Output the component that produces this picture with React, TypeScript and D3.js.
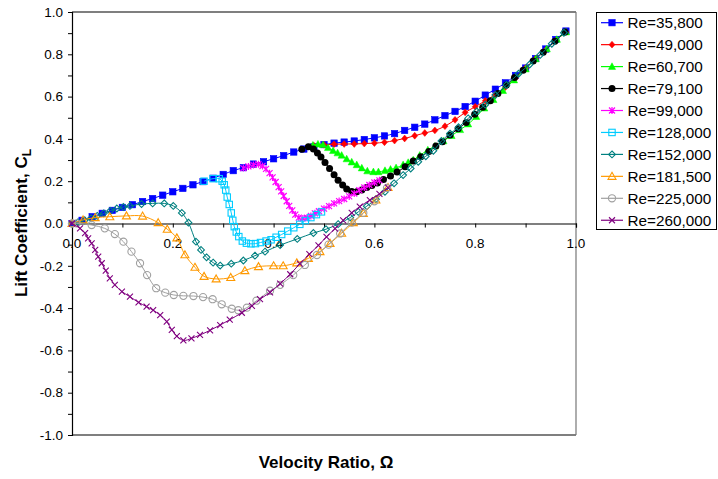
import React, { useEffect, useRef } from 'react';
import * as d3 from 'd3';

const seriesNames = ['Re=35,800', 'Re=49,000', 'Re=60,700', 'Re=79,100', 'Re=99,000', 'Re=128,000', 'Re=152,000', 'Re=181,500', 'Re=225,000', 'Re=260,000'];
const seriesColors = ['#0000FF', '#FF0000', '#00FF00', '#000000', '#FF00FF', '#00CCFF', '#008080', '#FF9900', '#A0A0A0', '#800080'];
const seriesMarkers = ['squareF', 'diamondF', 'triangleF', 'circleF', 'asterisk', 'squareO', 'diamondO', 'triangleO', 'circleO', 'cross'];

const w35800 = [0, 0.02, 0.04, 0.06, 0.08, 0.10, 0.12, 0.14, 0.16, 0.18, 0.20, 0.22, 0.24, 0.26, 0.28, 0.30, 0.32, 0.34, 0.36, 0.38, 0.40, 0.42, 0.44, 0.46, 0.48, 0.50, 0.52, 0.54, 0.56, 0.58, 0.60, 0.62, 0.64, 0.66, 0.68, 0.70, 0.72, 0.74, 0.76, 0.78, 0.80, 0.82, 0.84, 0.86, 0.88, 0.90, 0.92, 0.94, 0.96, 0.98];
const c35800 = [0, 0.015, 0.032, 0.048, 0.062, 0.076, 0.089, 0.104, 0.118, 0.134, 0.15, 0.166, 0.183, 0.198, 0.214, 0.232, 0.25, 0.264, 0.281, 0.292, 0.306, 0.321, 0.338, 0.352, 0.363, 0.373, 0.38, 0.385, 0.39, 0.397, 0.405, 0.414, 0.425, 0.44, 0.455, 0.47, 0.49, 0.51, 0.53, 0.553, 0.578, 0.607, 0.635, 0.665, 0.7, 0.735, 0.78, 0.825, 0.87, 0.91];

const w49000 = [0.48, 0.50, 0.52, 0.54, 0.56, 0.58, 0.60, 0.62, 0.64, 0.66, 0.68, 0.70, 0.72, 0.74, 0.76, 0.78, 0.80, 0.82, 0.84, 0.86, 0.88, 0.90, 0.92, 0.94, 0.96, 0.98];
const c49000 = [0.368, 0.372, 0.375, 0.376, 0.376, 0.378, 0.38, 0.384, 0.392, 0.402, 0.415, 0.428, 0.44, 0.46, 0.49, 0.525, 0.552, 0.58, 0.61, 0.645, 0.688, 0.735, 0.78, 0.82, 0.865, 0.905];

const w60700 = [0.478, 0.488, 0.498, 0.508, 0.518, 0.527, 0.535, 0.545, 0.555, 0.565, 0.575, 0.586, 0.598, 0.608, 0.621, 0.632, 0.643, 0.657, 0.667, 0.677, 0.69, 0.706, 0.72, 0.737, 0.753, 0.77, 0.786, 0.802, 0.818, 0.836, 0.855, 0.877, 0.9, 0.92, 0.942, 0.962, 0.98];
const c60700 = [0.37, 0.375, 0.372, 0.358, 0.344, 0.333, 0.322, 0.305, 0.29, 0.277, 0.262, 0.248, 0.244, 0.244, 0.25, 0.256, 0.263, 0.277, 0.288, 0.3, 0.322, 0.347, 0.365, 0.39, 0.415, 0.443, 0.47, 0.505, 0.545, 0.585, 0.628, 0.678, 0.73, 0.778, 0.825, 0.87, 0.905];

const w79100 = [0.456, 0.469, 0.479, 0.487, 0.494, 0.502, 0.511, 0.52, 0.528, 0.537, 0.545, 0.555, 0.565, 0.575, 0.585, 0.595, 0.606, 0.618, 0.632, 0.645, 0.661, 0.677, 0.692, 0.708, 0.722, 0.735, 0.75, 0.766, 0.782, 0.799, 0.815, 0.83, 0.845, 0.862, 0.878, 0.895, 0.915, 0.935, 0.958, 0.978];
const c79100 = [0.351, 0.363, 0.352, 0.333, 0.315, 0.288, 0.26, 0.23, 0.205, 0.182, 0.163, 0.151, 0.15, 0.158, 0.17, 0.18, 0.192, 0.208, 0.225, 0.243, 0.268, 0.295, 0.316, 0.34, 0.366, 0.387, 0.418, 0.448, 0.478, 0.516, 0.55, 0.58, 0.615, 0.655, 0.69, 0.725, 0.768, 0.81, 0.862, 0.905];

const w99000 = [0.34, 0.35, 0.36, 0.37, 0.378, 0.385, 0.392, 0.398, 0.404, 0.41, 0.415, 0.42, 0.426, 0.431, 0.437, 0.443, 0.45, 0.458, 0.466, 0.474, 0.482, 0.49, 0.5, 0.51, 0.52, 0.53, 0.54, 0.55, 0.56, 0.57, 0.58, 0.59, 0.6, 0.61];
const c99000 = [0.262, 0.27, 0.277, 0.28, 0.272, 0.258, 0.238, 0.218, 0.196, 0.172, 0.152, 0.13, 0.105, 0.083, 0.062, 0.042, 0.028, 0.024, 0.027, 0.036, 0.048, 0.058, 0.07, 0.082, 0.095, 0.106, 0.116, 0.128, 0.142, 0.157, 0.17, 0.182, 0.194, 0.204];

const w128000 = [0.262, 0.28, 0.292, 0.298, 0.302, 0.305, 0.308, 0.312, 0.316, 0.319, 0.322, 0.326, 0.331, 0.338, 0.346, 0.355, 0.364, 0.374, 0.385, 0.395, 0.405, 0.416, 0.428, 0.44, 0.452, 0.463, 0.474, 0.485, 0.495];
const c128000 = [0.2, 0.212, 0.212, 0.2, 0.183, 0.158, 0.125, 0.09, 0.05, 0.015, -0.015, -0.04, -0.062, -0.083, -0.093, -0.096, -0.095, -0.09, -0.083, -0.077, -0.065, -0.052, -0.036, -0.02, -0.004, 0.014, 0.028, 0.042, 0.055];

const w152000 = [0, 0.012, 0.025, 0.038, 0.05, 0.063, 0.076, 0.089, 0.102, 0.115, 0.138, 0.16, 0.183, 0.201, 0.218, 0.231, 0.246, 0.256, 0.267, 0.28, 0.294, 0.316, 0.34, 0.363, 0.383, 0.413, 0.447, 0.479, 0.504, 0.528, 0.552, 0.568, 0.585, 0.603, 0.621, 0.639, 0.657, 0.672, 0.687, 0.702, 0.717, 0.733, 0.75, 0.767, 0.786, 0.803, 0.82, 0.84, 0.862, 0.886, 0.908, 0.929, 0.952, 0.976];
const c152000 = [0, 0.006, 0.015, 0.025, 0.036, 0.048, 0.06, 0.071, 0.078, 0.083, 0.092, 0.095, 0.095, 0.083, 0.05, 0.004, -0.086, -0.125, -0.16, -0.185, -0.199, -0.19, -0.175, -0.152, -0.133, -0.102, -0.073, -0.045, -0.027, -0.003, 0.028, 0.055, 0.082, 0.115, 0.15, 0.19, 0.229, 0.26, 0.292, 0.318, 0.344, 0.39, 0.425, 0.455, 0.497, 0.53, 0.562, 0.607, 0.655, 0.708, 0.752, 0.797, 0.85, 0.902];

const w181500 = [0, 0.022, 0.046, 0.075, 0.108, 0.14, 0.171, 0.189, 0.208, 0.224, 0.244, 0.262, 0.286, 0.315, 0.343, 0.37, 0.4, 0.419, 0.446, 0.469, 0.492, 0.512, 0.535, 0.558, 0.578, 0.603, 0.627];
const c181500 = [0, 0.017, 0.028, 0.032, 0.036, 0.035, 0.004, -0.027, -0.068, -0.148, -0.207, -0.25, -0.262, -0.255, -0.223, -0.204, -0.2, -0.2, -0.186, -0.165, -0.133, -0.094, -0.046, 0.004, 0.048, 0.111, 0.17];

const w225000 = [0, 0.009, 0.039, 0.065, 0.085, 0.102, 0.118, 0.135, 0.149, 0.167, 0.185, 0.202, 0.221, 0.241, 0.26, 0.279, 0.297, 0.317, 0.33, 0.347, 0.366, 0.393, 0.413, 0.439, 0.462, 0.486, 0.509, 0.532, 0.555, 0.578, 0.6, 0.625];
const c225000 = [0, 0.001, -0.007, -0.023, -0.05, -0.086, -0.133, -0.188, -0.244, -0.306, -0.327, -0.338, -0.342, -0.343, -0.348, -0.358, -0.382, -0.403, -0.41, -0.398, -0.365, -0.318, -0.29, -0.244, -0.196, -0.149, -0.1, -0.047, 0.004, 0.05, 0.105, 0.168];

const w260000 = [0, 0.016, 0.026, 0.032, 0.039, 0.046, 0.052, 0.059, 0.067, 0.075, 0.085, 0.099, 0.115, 0.132, 0.148, 0.161, 0.175, 0.188, 0.198, 0.208, 0.221, 0.237, 0.254, 0.274, 0.294, 0.313, 0.337, 0.357, 0.373, 0.393, 0.413, 0.433, 0.452, 0.471, 0.489, 0.505, 0.522, 0.538, 0.555, 0.571, 0.591, 0.61, 0.627];
const c260000 = [0, -0.023, -0.046, -0.07, -0.094, -0.125, -0.157, -0.188, -0.223, -0.259, -0.29, -0.322, -0.346, -0.373, -0.393, -0.41, -0.433, -0.464, -0.503, -0.532, -0.553, -0.543, -0.527, -0.505, -0.48, -0.455, -0.422, -0.39, -0.358, -0.326, -0.284, -0.24, -0.19, -0.145, -0.103, -0.063, -0.024, 0.015, 0.05, 0.08, 0.111, 0.14, 0.17];

const omegaSeries = [w35800, w49000, w60700, w79100, w99000, w128000, w152000, w181500, w225000, w260000];
const clSeries = [c35800, c49000, c60700, c79100, c99000, c128000, c152000, c181500, c225000, c260000];

const xTickValues = [0, 0.2, 0.4, 0.6, 0.8, 1.0];
const yTickValues = [-1.0, -0.8, -0.6, -0.4, -0.2, 0.0, 0.2, 0.4, 0.6, 0.8, 1.0];

const fmt = (d: number) => d3.format('.1f')(d).replace('\u2212', '-');

function drawMarker(g: any, type: string, x: number, y: number, color: string) {
  const s = 3.2;
  switch (type) {
    case 'squareF':
      g.append('rect').attr('x', x - s).attr('y', y - s).attr('width', 2 * s).attr('height', 2 * s).attr('fill', color).attr('stroke', color).attr('stroke-width', 0.6);
      break;
    case 'diamondF':
      g.append('path').attr('d', `M${x},${y - 3.4}L${x + 3},${y}L${x},${y + 3.4}L${x - 3},${y}Z`).attr('fill', color).attr('stroke', color).attr('stroke-width', 0.5);
      break;
    case 'triangleF':
      g.append('path').attr('d', `M${x},${y - 3.8}L${x + 3.6},${y + 2.8}L${x - 3.6},${y + 2.8}Z`).attr('fill', color).attr('stroke', color).attr('stroke-width', 0.5);
      break;
    case 'circleF':
      g.append('circle').attr('cx', x).attr('cy', y).attr('r', 3.5).attr('fill', color);
      break;
    case 'asterisk':
      g.append('path').attr('d', `M${x - 3},${y - 3}L${x + 3},${y + 3}M${x - 3},${y + 3}L${x + 3},${y - 3}M${x},${y - 3.5}L${x},${y + 3.5}`).attr('stroke', color).attr('stroke-width', 1.2).attr('fill', 'none');
      break;
    case 'squareO':
      g.append('rect').attr('x', x - 3.2).attr('y', y - 3.2).attr('width', 6.4).attr('height', 6.4).attr('fill', 'none').attr('stroke', color).attr('stroke-width', 1.1);
      break;
    case 'diamondO':
      g.append('path').attr('d', `M${x},${y - 3.4}L${x + 3.4},${y}L${x},${y + 3.4}L${x - 3.4},${y}Z`).attr('fill', 'none').attr('stroke', color).attr('stroke-width', 1.1);
      break;
    case 'triangleO':
      g.append('path').attr('d', `M${x},${y - 4}L${x + 4},${y + 3}L${x - 4},${y + 3}Z`).attr('fill', 'none').attr('stroke', color).attr('stroke-width', 1.1);
      break;
    case 'circleO':
      g.append('circle').attr('cx', x).attr('cy', y).attr('r', 3.6).attr('fill', 'none').attr('stroke', color).attr('stroke-width', 1.1);
      break;
    case 'cross':
      g.append('path').attr('d', `M${x - 3},${y - 3}L${x + 3},${y + 3}M${x - 3},${y + 3}L${x + 3},${y - 3}`).attr('stroke', color).attr('stroke-width', 1.1).attr('fill', 'none');
      break;
  }
}

export default function App() {
  const ref = useRef<SVGSVGElement>(null);
  useEffect(() => {
    const svg = d3.select(ref.current);
    svg.selectAll('*').remove();
    const left = 72, right = 576, top = 12, bottom = 435;
    const x = d3.scaleLinear().domain([0, 1]).range([left, right]);
    const y = d3.scaleLinear().domain([-1, 1]).range([bottom, top]);
    const font = "'Liberation Sans', Arial, sans-serif";

    svg.append('rect').attr('width', 718).attr('height', 479).attr('fill', '#fff');

    // frame
    svg.append('line').attr('x1', left).attr('x2', right).attr('y1', top).attr('y2', top).attr('stroke', '#000').attr('stroke-width', 1.2);
    svg.append('line').attr('x1', left).attr('x2', right).attr('y1', bottom).attr('y2', bottom).attr('stroke', '#000').attr('stroke-width', 1.2);
    svg.append('line').attr('x1', right).attr('x2', right).attr('y1', top).attr('y2', bottom).attr('stroke', '#777').attr('stroke-width', 1.2);

    // y axis
    const yAxis = d3.axisLeft(y).tickValues(d3.range(-1, 1.001, 0.1)).tickSize(4).tickFormat(() => '');
    const ya = svg.append('g').attr('transform', `translate(${left},0)`).call(yAxis as any);
    ya.select('.domain').attr('stroke', '#000').attr('stroke-width', 1.2);
    ya.selectAll('.tick line').attr('stroke', '#000');
    svg.append('g').selectAll('text').data(yTickValues).join('text')
      .attr('x', left - 9).attr('y', (d) => y(d)).attr('dy', '0.35em')
      .attr('text-anchor', 'end').attr('font-family', font).attr('font-size', 13.5).attr('fill', '#000')
      .text((d) => fmt(d));

    // x axis at y=0
    const xAxis = d3.axisBottom(x).tickValues(d3.range(0, 1.001, 0.1)).tickSize(4).tickFormat(() => '');
    const xa = svg.append('g').attr('transform', `translate(0,${y(0)})`).call(xAxis as any);
    xa.select('.domain').attr('stroke', '#000').attr('stroke-width', 1.2);
    xa.selectAll('.tick line').attr('stroke', '#000');
    svg.append('g').selectAll('text').data(xTickValues).join('text')
      .attr('x', (d) => x(d)).attr('y', y(0) + 24)
      .attr('text-anchor', 'middle').attr('font-family', font).attr('font-size', 13.5).attr('fill', '#000')
      .text((d) => fmt(d));

    // series
    const line = d3.line<[number, number]>().x((d) => x(d[0])).y((d) => y(d[1])).curve(d3.curveCatmullRom.alpha(0.5));
    const plot = svg.append('g');
    omegaSeries.forEach((ws, i) => {
      const pts: [number, number][] = ws.map((w, j) => [w, clSeries[i][j]]);
      const g = plot.append('g');
      g.append('path').attr('d', line(pts) as string).attr('fill', 'none').attr('stroke', seriesColors[i]).attr('stroke-width', 1);
      pts.forEach((p) => drawMarker(g, seriesMarkers[i], x(p[0]), y(p[1]), seriesColors[i]));
    });

    // axis titles
    svg.append('text').attr('x', 326).attr('y', 468).attr('text-anchor', 'middle')
      .attr('font-family', font).attr('font-weight', 'bold').attr('font-size', 17).attr('fill', '#000')
      .text('Velocity Ratio, Ω');
    const yt = svg.append('text').attr('transform', `translate(27,223) rotate(-90)`).attr('text-anchor', 'middle')
      .attr('font-family', font).attr('font-weight', 'bold').attr('font-size', 17).attr('fill', '#000');
    yt.append('tspan').text('Lift Coefficient, C');
    yt.append('tspan').attr('font-size', 12).attr('dy', 4).text('L');

    // legend
    const lg = svg.append('g');
    lg.append('rect').attr('x', 596.5).attr('y', 12.5).attr('width', 120).attr('height', 217).attr('fill', '#fff').attr('stroke', '#000').attr('stroke-width', 1);
    seriesNames.forEach((name, i) => {
      const cy = 22.7 + i * 21.95;
      lg.append('line').attr('x1', 601).attr('x2', 623).attr('y1', cy).attr('y2', cy).attr('stroke', seriesColors[i]).attr('stroke-width', 1.2);
      drawMarker(lg, seriesMarkers[i], 612, cy, seriesColors[i]);
      lg.append('text').attr('x', 627.5).attr('y', cy).attr('dy', '0.36em')
        .attr('font-family', font).attr('font-size', 15.3).attr('fill', '#000').text(name);
    });
  }, []);
  return (
    <div style={{ position: 'absolute', left: 0, top: 0 }}>
      <svg ref={ref} width={718} height={479} style={{ display: 'block' }} />
    </div>
  );
}
